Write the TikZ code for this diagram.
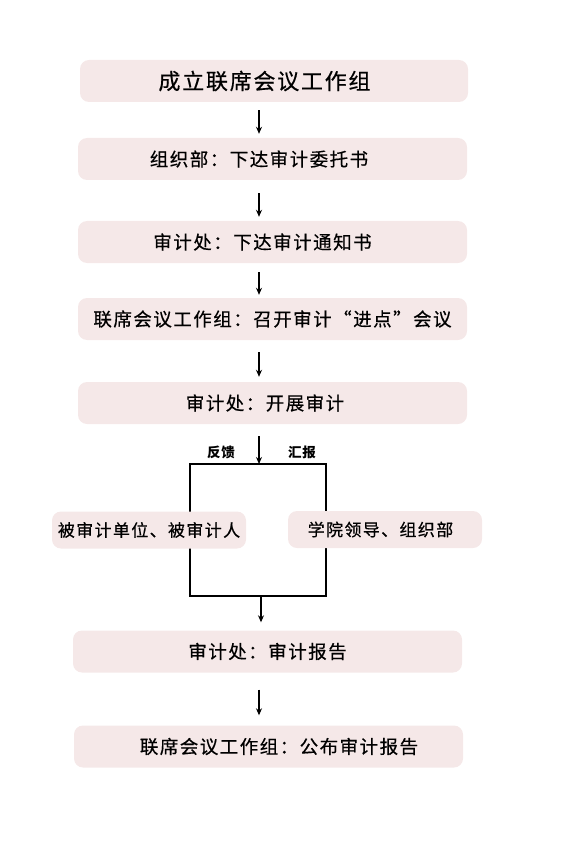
\documentclass[tikz,border=0pt]{standalone}
\usepackage{fontspec}
\setmainfont{Noto Sans CJK SC}[FakeBold=0.5, LetterSpace=8]
\newfontfamily\lblfont{Noto Sans CJK SC}[LetterSpace=4]
\usetikzlibrary{arrows.meta}
\definecolor{boxpink}{HTML}{F5E8E8}
\tikzset{
  flowbox/.style={fill=boxpink, rounded corners=9pt, minimum height=42pt, inner sep=0pt, font=\fontsize{18.5}{21}\selectfont},
  sidebox/.style={fill=boxpink, rounded corners=9pt, minimum height=37pt, minimum width=194pt, inner sep=0pt, font=\fontsize{17}{19}\selectfont},
  arr/.style={line width=1.3pt, -{Stealth[length=7pt,width=6pt]}},
  frame/.style={line width=1.4pt},
  lbl/.style={font=\lblfont\fontsize{13.5}{15}\selectfont\bfseries}
}
\begin{document}
\begin{tikzpicture}[x=1pt,y=-1pt]
\useasboundingbox (0,0) rectangle (567,850);
% frame around the side boxes
\coordinate (ftl) at (190,464);
\coordinate (ftr) at (326,464);
\coordinate (fbl) at (190,596);
\coordinate (fbr) at (326,596);
\coordinate (ftop) at (259,464);
\coordinate (fbot) at (261,596);
\draw[frame] (ftl) -- (ftr) -- (fbr) -- (fbl) -- cycle;

\node[flowbox, minimum width=388pt, font=\fontsize{22}{24}\selectfont] (b1) at (274,81) {成立联席会议工作组\hspace*{19pt}};
\node[flowbox, minimum width=389pt] (b2) at (272.5,159) {组织部：下达审计委托书\hspace*{27pt}};
\node[flowbox, minimum width=389pt] (b3) at (272.5,242) {审计处：下达审计通知书\hspace*{20pt}};
\node[flowbox, minimum width=389pt] (b4) at (272.5,319) {联席会议工作组：召开审计“进点”会议};
\node[flowbox, minimum width=389pt] (b5) at (272.5,403) {审计处：开展审计\hspace*{15pt}};
\node[sidebox] (sl) at (149,530) {被审计单位、被审计人};
\node[sidebox] (sr) at (385,529.5) {学院领导、组织部\hspace*{9pt}};
\node[flowbox, minimum width=389pt] (b8) at (267.5,651.5) {审计处：审计报告};
\node[flowbox, minimum width=389pt] (b9) at (268.5,746.5) {\hspace*{21pt}联席会议工作组：公布审计报告};

\node[lbl] (fk) at (221,452) {反馈};
\node[lbl] (hb) at (302,452) {汇报};

\coordinate (ax) at (259,0);
\draw[arr] ([yshift=-8pt]b1.south -| ax) -- ([yshift=4pt]b2.north -| ax);
\draw[arr] ([yshift=-13pt]b2.south -| ax) -- ([yshift=4pt]b3.north -| ax);
\draw[arr] ([yshift=-9pt]b3.south -| ax) -- ([yshift=3pt]b4.north -| ax);
\draw[arr] ([yshift=-12pt]b4.south -| ax) -- ([yshift=5pt]b5.north -| ax);
\draw[arr] ([yshift=-12pt]b5.south -| ax) -- (ftop);
\draw[arr] (fbot) -- ([yshift=8pt]b8.north -| fbot);
\draw[arr] ([yshift=-17pt]b8.south -| ax) -- ([yshift=10pt]b9.north -| ax);
\end{tikzpicture}
\end{document}
